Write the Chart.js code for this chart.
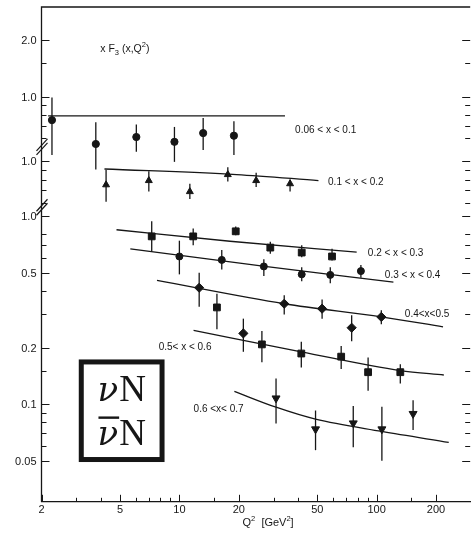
<!DOCTYPE html>
<html>
<head>
<meta charset="utf-8">
<script src="https://cdn.jsdelivr.net/npm/chart.js@4.4.1/dist/chart.umd.min.js"></script>
<style>
  html, body { margin: 0; padding: 0; background: #fff; }
  canvas { display: block; }
</style>
</head>
<body>
<canvas id="xf3Chart" width="476" height="535"></canvas>
<script>
// xF3(x,Q^2) per x bin, rows are [Q^2, xF3, error bar low, error bar high]
const bin006 = [[2.26, 0.75, 0.49, 0.99], [3.77, 0.56, 0.41, 0.73], [6.05, 0.61, 0.51, 0.71],
                [9.44, 0.575, 0.45, 0.69], [13.2, 0.64, 0.52, 0.77], [18.9, 0.62, 0.49, 0.74]];
const bin01 = [[4.25, 0.75, 0.61, 0.90], [7.0, 0.79, 0.69, 0.885], [11.3, 0.69, 0.63, 0.76],
               [17.6, 0.85, 0.78, 0.93], [24.5, 0.79, 0.73, 0.87], [36.4, 0.76, 0.69, 0.80]];
const bin02 = [[7.24, 0.78, 0.65, 0.94], [11.75, 0.78, 0.70, 0.86], [19.3, 0.83, 0.79, 0.88],
               [28.9, 0.68, 0.63, 0.73], [41.7, 0.64, 0.605, 0.70], [59.4, 0.61, 0.58, 0.67]];
const bin03 = [[10.0, 0.61, 0.49, 0.74], [16.4, 0.585, 0.52, 0.66], [26.8, 0.54, 0.48, 0.59],
               [41.7, 0.49, 0.45, 0.535], [58.2, 0.487, 0.44, 0.535], [83.2, 0.51, 0.47, 0.55]];
const bin04 = [[12.6, 0.416, 0.33, 0.50], [21.1, 0.238, 0.19, 0.285], [34.0, 0.342, 0.30, 0.38],
               [52.9, 0.322, 0.285, 0.36], [74.7, 0.255, 0.216, 0.297], [105.6, 0.291, 0.266, 0.316]];
const bin05 = [[15.5, 0.327, 0.25, 0.387], [26.2, 0.208, 0.167, 0.245], [41.5, 0.186, 0.157, 0.215],
               [66.1, 0.179, 0.154, 0.204], [90.5, 0.148, 0.118, 0.177], [131.8, 0.148, 0.129, 0.163]];
const bin06 = [[30.9, 0.1076, 0.079, 0.137], [49.0, 0.0737, 0.057, 0.0926], [76.1, 0.0793, 0.059, 0.098],
               [106.3, 0.0737, 0.050, 0.097], [153, 0.089, 0.073, 0.105]];

// curves, rows are [Q^2, xF3]
const fit006 = [[2.16, 0.79], [34.3, 0.79]];
const fit01 = [[4.17, 0.91], [19.5, 0.85], [50.7, 0.79]];
const fit02 = [[4.80, 0.846], [18.05, 0.735], [79.2, 0.643]];
const fit03 = [[5.64, 0.669], [26.5, 0.542], [121.6, 0.446]];
const fit04 = [[7.70, 0.455], [34, 0.342], [105.6, 0.291], [217, 0.258]];
const fit05 = [[11.8, 0.247], [41.5, 0.190], [131.8, 0.151], [219, 0.143]];
const fit06 = [[19.0, 0.117], [30.9, 0.0964], [49, 0.0833], [106, 0.0717], [232, 0.0627]];

const binNames = ['0.06 < x < 0.1', '0.1 < x < 0.2', '0.2 < x < 0.3', '0.3 < x < 0.4',
                  '0.4<x<0.5', '0.5< x < 0.6', '0.6 <x< 0.7'];

// axis ticks
const q2Ticks = [2, 3, 4, 5, 6, 7, 8, 9, 10, 15, 20, 30, 40, 50, 60, 70, 80, 90, 100, 150, 200];
const q2TickLabels = ['2', '', '', '5', '', '', '', '', '10', '', '20', '', '', '50', '', '', '', '', '100', '', '200'];
const topTicks = [2.0, 1.5, 1.0, 0.9, 0.8, 0.7, 0.6];
const topTickLabels = ['2.0', '', '1.0', '', '', '', ''];
const midTicks = [1.0, 0.9, 0.8, 0.7, 0.6];
const midTickLabels = ['1.0', '', '', '', ''];
const lowTicks = [1.0, 0.8, 0.7, 0.6, 0.5, 0.4, 0.3, 0.2, 0.15, 0.1, 0.09, 0.08, 0.07, 0.06, 0.05];
const lowTickLabels = ['1.0', '', '', '', '0.5', '', '', '0.2', '', '0.1', '', '', '', '', '0.05'];

const ink = '#161616';
const sans = '"Liberation Sans", Arial, sans-serif';
const serif = '"Liberation Serif", "DejaVu Serif", serif';
const nuFont = '"DejaVu Serif", serif';

function toPoints(rows) {
    return rows.map(r => ({ x: r[0], y: r[1], lo: r[2], hi: r[3] }));
}

function pointSet(rows, axis, style, radius, rotation) {
    return {
        type: 'scatter',
        data: toPoints(rows),
        yAxisID: axis,
        errorBars: true,
        pointStyle: style,
        pointRadius: radius,
        rotation: rotation || 0,
        backgroundColor: ink,
        borderColor: ink,
        borderWidth: 1
    };
}

function curveSet(rows, axis) {
    return {
        type: 'line',
        data: rows.map(r => ({ x: r[0], y: r[1] })),
        yAxisID: axis,
        borderColor: ink,
        borderWidth: 1.3,
        pointRadius: 0,
        cubicInterpolationMode: 'monotone',
        fill: false
    };
}

// vertical error bars
const errorBars = {
    id: 'errorBars',
    beforeDatasetsDraw(chart) {
        const { ctx } = chart;
        ctx.save();
        ctx.strokeStyle = ink;
        ctx.lineWidth = 1.3;
        chart.data.datasets.forEach((ds) => {
            if (!ds.errorBars) return;
            const xs = chart.scales.x;
            const ys = chart.scales[ds.yAxisID];
            ds.data.forEach((p) => {
                const x = xs.getPixelForValue(p.x);
                ctx.beginPath();
                ctx.moveTo(x, ys.getPixelForValue(p.lo));
                ctx.lineTo(x, ys.getPixelForValue(p.hi));
                ctx.stroke();
            });
        });
        ctx.restore();
    }
};

function drawRich(ctx, parts, x, y) {
    // parts: [text, size, baseline shift]
    parts.forEach(([t, size, dy]) => {
        ctx.font = size + 'px ' + sans;
        ctx.fillText(t, x, y + dy);
        x += ctx.measureText(t).width;
    });
}

// frame, inward ticks, breaks and the texts in the plot
const decor = {
    id: 'decor',
    afterDraw(chart) {
        const { ctx, chartArea: a, scales } = chart;
        const xs = scales.x;
        ctx.save();
        ctx.strokeStyle = ink;
        ctx.fillStyle = ink;

        ctx.lineWidth = 1.3;
        ctx.beginPath();
        ctx.moveTo(a.left, a.bottom);
        ctx.lineTo(a.left, a.top);
        ctx.lineTo(a.right, a.top);
        ctx.stroke();

        ctx.lineWidth = 1;
        q2Ticks.forEach((v, i) => {
            const x = Math.round(xs.getPixelForValue(v)) + 0.5;
            const len = q2TickLabels[i] ? 7 : 4;
            ctx.beginPath();
            ctx.moveTo(x, a.bottom);
            ctx.lineTo(x, a.bottom - len);
            ctx.stroke();
        });

        ctx.font = '11px ' + sans;
        ctx.textAlign = 'right';
        ctx.textBaseline = 'middle';
        [[scales.yA, topTicks, topTickLabels],
         [scales.yB, midTicks, midTickLabels],
         [scales.yC, lowTicks, lowTickLabels]].forEach(([s, vals, labs]) => {
            vals.forEach((v, i) => {
                const y = Math.round(s.getPixelForValue(v)) + 0.5;
                const len = labs[i] ? 8 : 5;
                ctx.beginPath();
                ctx.moveTo(a.left, y);
                ctx.lineTo(a.left + len, y);
                ctx.moveTo(a.right, y);
                ctx.lineTo(a.right - len, y);
                ctx.stroke();
                if (labs[i]) ctx.fillText(labs[i], a.left - 5, y + 0.5);
            });
        });

        // axis breaks
        ctx.lineWidth = 1.2;
        [scales.yA.getPixelForValue(0.54), scales.yB.getPixelForValue(0.57)].forEach((yb) => {
            [-2, 2].forEach((off) => {
                ctx.beginPath();
                ctx.moveTo(a.left - 5, yb + off + 6);
                ctx.lineTo(a.left + 6, yb + off - 6);
                ctx.stroke();
            });
        });

        // bin labels
        const anchors = [[38.6, 0.661, 'yA'], [56.7, 0.777, 'yB'], [90.2, 0.637, 'yC'], [110, 0.483, 'yC'],
                         [139, 0.300, 'yC'], [7.85, 0.200, 'yC'], [11.8, 0.0941, 'yC']];
        ctx.font = '10px ' + sans;
        ctx.textAlign = 'left';
        binNames.forEach((name, i) => {
            const [q, v, ax] = anchors[i];
            ctx.fillText(name, xs.getPixelForValue(q), scales[ax].getPixelForValue(v));
        });

        // y label
        ctx.textBaseline = 'alphabetic';
        drawRich(ctx, [['x F', 10.5, 0], ['3', 7.5, 3], [' (x,Q', 10.5, 0], ['2', 7.5, -5], [')', 10.5, 0]],
                 xs.getPixelForValue(3.97), scales.yA.getPixelForValue(1.82) + 4);

        // x label
        drawRich(ctx, [['Q', 11, 0], ['2', 7.5, -5], ['  [GeV', 11, 0], ['2', 7.5, -5], [']', 11, 0]],
                 xs.getPixelForValue(20.9), a.bottom + 24);

        // beam box
        const bx0 = xs.getPixelForValue(3.09), by0 = scales.yC.getPixelForValue(0.173);
        const bx1 = xs.getPixelForValue(8.41), by1 = scales.yC.getPixelForValue(0.0493);
        ctx.lineWidth = 5;
        ctx.strokeRect(bx0 + 2.5, by0 + 2.5, bx1 - bx0 - 5, by1 - by0 - 5);
        const cx = (bx0 + bx1) / 2;
        [[by0 + 42, false], [by0 + 86, true]].forEach(([base, bar]) => {
            ctx.font = 'italic 34px ' + nuFont;
            const wNu = ctx.measureText('\u03bd').width;
            ctx.font = '37px ' + serif;
            const wN = ctx.measureText('N').width;
            const x0 = cx - (wNu + wN + 1) / 2;
            ctx.font = 'italic 34px ' + nuFont;
            ctx.fillText('\u03bd', x0, base);
            ctx.font = '37px ' + serif;
            ctx.fillText('N', x0 + wNu + 1, base);
            if (bar) {
                ctx.fillRect(x0 + 1, base - 29, wNu, 2.4);
            }
        });
        ctx.restore();
    }
};

new Chart(document.getElementById('xf3Chart').getContext('2d'), {
    data: {
        datasets: [
            curveSet(fit006, 'yA'), curveSet(fit01, 'yB'), curveSet(fit02, 'yC'), curveSet(fit03, 'yC'),
            curveSet(fit04, 'yC'), curveSet(fit05, 'yC'), curveSet(fit06, 'yC'),
            pointSet(bin006, 'yA', 'circle', 3.6),
            pointSet(bin01, 'yB', 'triangle', 4),
            pointSet(bin02, 'yC', 'rect', 4.8),
            pointSet(bin03, 'yC', 'circle', 3.5),
            pointSet(bin04, 'yC', 'rectRot', 4.6),
            pointSet(bin05, 'yC', 'rect', 4.8),
            pointSet(bin06, 'yC', 'triangle', 4.6, 180)
        ]
    },
    options: {
        responsive: false,
        animation: false,
        devicePixelRatio: 1,
        layout: { padding: { left: 41.5, right: 0, top: 7, bottom: 16 } },
        plugins: { legend: { display: false }, tooltip: { enabled: false } },
        scales: {
            x: {
                type: 'logarithmic',
                min: 2,
                max: 298,
                afterBuildTicks: (scale) => { scale.ticks = q2Ticks.map(v => ({ value: v })); },
                ticks: {
                    autoSkip: false,
                    maxRotation: 0,
                    padding: 2,
                    color: ink,
                    font: { family: sans, size: 11 },
                    callback: (v, i) => q2TickLabels[i]
                },
                grid: { display: false, drawTicks: false },
                border: { display: true, color: ink, width: 1.3 }
            },
            // three stacked log axes with the same decade length, one per panel of the broken axis
            yA: { type: 'logarithmic', position: 'left', display: false, min: 0.007025, max: 2.994 },
            yB: { type: 'logarithmic', position: 'left', display: false, min: 0.0155, max: 6.608 },
            yC: { type: 'logarithmic', position: 'left', display: false, min: 0.0303, max: 12.92 }
        }
    },
    plugins: [errorBars, decor]
});
</script>
</body>
</html>
